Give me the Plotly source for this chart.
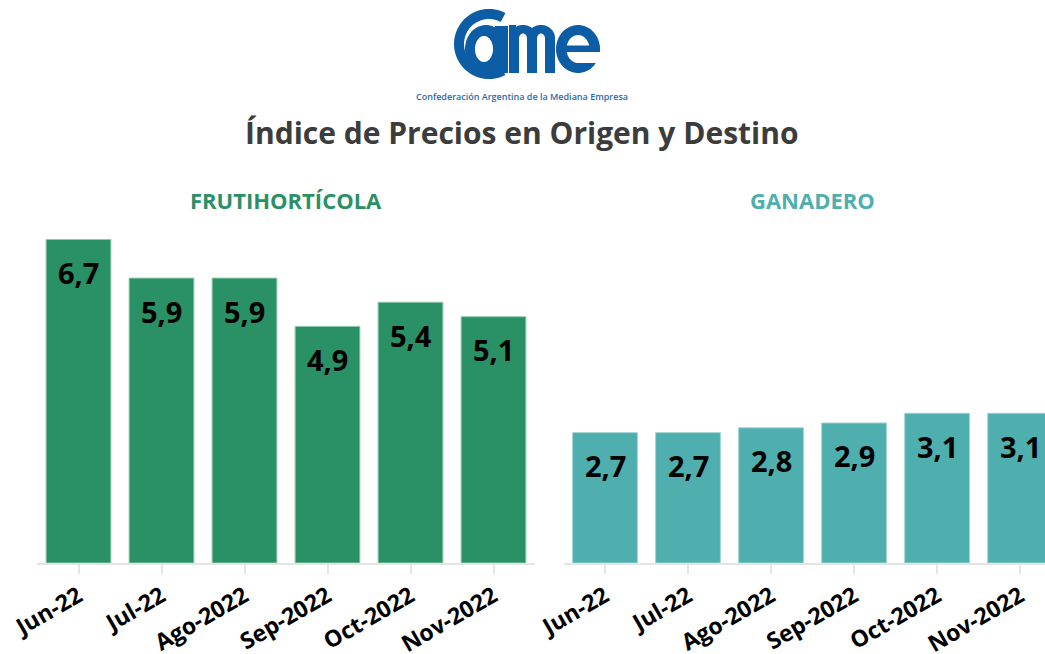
import numpy as np
import plotly.graph_objects as go

# ---------------- data ----------------
categories = ["Jun-22", "Jul-22", "Ago-2022", "Sep-2022", "Oct-2022", "Nov-2022"]
frutihorticola = [6.7, 5.9, 5.9, 4.9, 5.4, 5.1]
ganadero = [2.7, 2.7, 2.8, 2.9, 3.1, 3.1]
panel_titles = ["FRUTIHORTÍCOLA", "GANADERO"]
main_title = "Índice de Precios en Origen y Destino"
logo_caption = "Confederación Argentina de la Mediana Empresa"

W, H = 1045, 654
GREEN = "#2a9066"
TEAL = "#4eafae"
BLUE = "#0d5ca6"
FONT = "Open Sans"

# -------------- helpers for logo (pixel -> paper) --------------
def P(x, y):
    return f"{x / W:.5f},{1 - y / H:.5f}"

def poly(pts):
    return "M " + " L ".join(P(x, y) for x, y in pts) + " Z"

def arc(cx, cy, rx, ry, a0, a1, n=60):
    t = np.radians(np.linspace(a0, a1, n))
    return list(zip(cx + rx * np.cos(t), cy - ry * np.sin(t)))

def rect(x0, y0, x1, y1):
    return [(x0, y0), (x1, y0), (x1, y1), (x0, y1)]

def shp(path, color):
    return dict(type="path", xref="paper", yref="paper", path=path,
                fillcolor=color, line=dict(width=0), layer="above")

shapes = []
# big C ring
c_outer = arc(489, 44, 35, 35, 62, 298)
c_inner = arc(489, 44, 25, 25, 298, 62)
shapes.append(shp(poly(c_outer + c_inner), BLUE))
# "a"
shapes.append(shp(poly(arc(486, 49, 21, 24, 0, 360)), BLUE))
shapes.append(shp(poly(rect(495, 26, 508, 73)), BLUE))
shapes.append(shp(poly(arc(484, 49, 9, 13, 0, 360)), "white"))
# "m"
shapes.append(shp(poly(arc(523, 38, 14, 13, 0, 180)), BLUE))
shapes.append(shp(poly(arc(541, 38, 14, 13, 0, 180)), BLUE))
shapes.append(shp(poly(rect(509, 25, 516, 40)), BLUE))
for x0 in (509, 527, 545):
    shapes.append(shp(poly(rect(x0, 37, x0 + 10, 73)), BLUE))
shapes.append(shp(poly(arc(523, 38.5, 4, 5, 0, 180)), "white"))
shapes.append(shp(poly(arc(541, 38.5, 4, 5, 0, 180)), "white"))
# "e"
shapes.append(shp(poly(arc(578, 49, 22, 24, 0, 360)), BLUE))
shapes.append(shp(poly(arc(578, 49, 11.5, 14, 0, 360)), "white"))
shapes.append(shp(poly(rect(566, 45.5, 599.5, 52)), BLUE))
shapes.append(shp(poly(rect(580, 52, 602, 63)), "white"))

# ---------------- figure ----------------
fig = go.Figure()
fig.add_trace(go.Bar(x=categories, y=frutihorticola, marker=dict(color=GREEN, line=dict(color="#8cc7ab", width=1)),
                     xaxis="x", yaxis="y", hoverinfo="skip"))
fig.add_trace(go.Bar(x=categories, y=ganadero, marker=dict(color=TEAL, line=dict(color="#9fd3d2", width=1)),
                     xaxis="x2", yaxis="y2", hoverinfo="skip"))

def fmt(v):
    return f"{v:.1f}".replace(".", ",")

annotations = []
for xa, ya, vals in (("x", "y", frutihorticola), ("x2", "y2", ganadero)):
    for c, v in zip(categories, vals):
        annotations.append(dict(x=c, y=v, xref=xa, yref=ya, text=f"<b>{fmt(v)}</b>",
                                showarrow=False, yanchor="middle", yshift=-33,
                                font=dict(family=FONT, size=29, color="black")))

annotations += [
    dict(x=522 / W, y=1 - 96 / H, xref="paper", yref="paper", text=logo_caption,
         showarrow=False, xanchor="center", yanchor="middle",
         font=dict(family=FONT, size=9, color="#2a6cb0", weight=600)),
    dict(x=522 / W, y=1 - 133 / H, xref="paper", yref="paper", text=f"<b>{main_title}</b>",
         showarrow=False, xanchor="center", yanchor="middle",
         font=dict(family=FONT, size=30, color="#3c3c3c")),
    dict(x=286 / W, y=1 - 200 / H, xref="paper", yref="paper", text=f"<b>{panel_titles[0]}</b>",
         showarrow=False, xanchor="center", yanchor="middle",
         font=dict(family=FONT, size=22, color=GREEN)),
    dict(x=812 / W, y=1 - 200 / H, xref="paper", yref="paper", text=f"<b>{panel_titles[1]}</b>",
         showarrow=False, xanchor="center", yanchor="middle",
         font=dict(family=FONT, size=22, color=TEAL)),
]

xa_common = dict(type="category", showline=True, linecolor="#e4e4e4", linewidth=1.5,
                 ticks="outside", ticklen=9, tickcolor="#e4e4e4", tickwidth=1.5,
                 tickangle=-30, showgrid=False, zeroline=False, fixedrange=True,
                 automargin=False,
                 tickfont=dict(family=FONT, size=23, color="black", weight="bold"))
ydom = [(H - 563) / H, (H - 225) / H]
ya_common = dict(range=[0, 7], visible=False, showgrid=False, zeroline=False,
                 fixedrange=True, automargin=False)

fig.update_layout(
    width=W, height=H, margin=dict(l=0, r=0, t=0, b=0, autoexpand=False),
    paper_bgcolor="white", plot_bgcolor="white", showlegend=False,
    bargap=0.22,
    xaxis=dict(domain=[37 / W, 535 / W], anchor="y", range=[-0.5, 5.5], **xa_common),
    xaxis2=dict(domain=[563.5 / W, 1.0], anchor="y2", range=[-0.5, 5.3], **xa_common),
    yaxis=dict(domain=ydom, anchor="x", **ya_common),
    yaxis2=dict(domain=ydom, anchor="x2", **ya_common),
    annotations=annotations,
    shapes=shapes,
)

fig.write_html("out.html")
